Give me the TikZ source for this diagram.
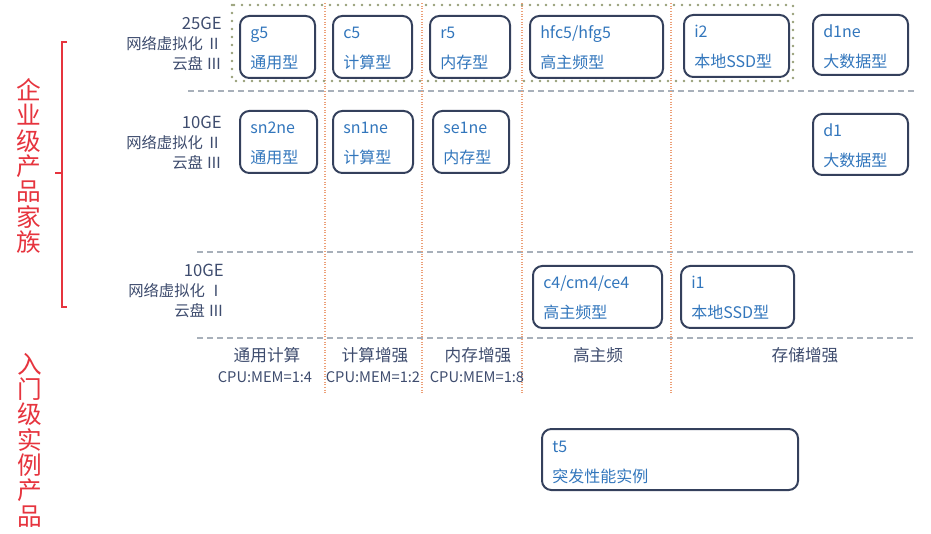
\documentclass[tikz,border=0pt]{standalone}
\usepackage{fontspec}
\setmainfont{Noto Sans CJK SC}
\usepackage{tikz}
\usepackage{xcolor}
\usetikzlibrary{positioning,calc}
\definecolor{famred}{RGB}{230,52,62}
\definecolor{boxline}{RGB}{52,64,92}
\definecolor{boxblue}{RGB}{50,118,188}
\definecolor{labgray}{RGB}{62,76,110}
\definecolor{gridgray}{RGB}{168,176,186}
\definecolor{sepor}{RGB}{236,160,120}
\definecolor{genolive}{RGB}{150,158,118}
\newcommand{\speedlab}[1]{{\fontsize{12.5}{15}\selectfont #1}}

\begin{document}
\begin{tikzpicture}[x=0.75pt,y=-0.75pt,
 machine/.style={draw=boxline,line width=1.5pt,rounded corners=7pt,anchor=north west,inner sep=0pt},
 tag/.style={anchor=base west,inner sep=0pt,text=boxblue,font=\fontsize{12}{14}\selectfont},
 rowlab/.style={anchor=east,align=right,inner sep=0pt,text=labgray,font=\fontsize{11.5}{15}\selectfont},
 collab/.style={inner sep=0pt,text=labgray,font=\fontsize{12.5}{14}\selectfont},
 ratiolab/.style={inner sep=0pt,text=labgray,font=\fontsize{11}{12}\selectfont},
 family/.style={inner sep=0pt,align=center,text=famred,font=\fontsize{18.5}{19}\selectfont},
 gridline/.style={draw=gridgray,line width=0.9pt,dash pattern=on 4.5pt off 3pt},
 colline/.style={draw=sepor,line width=0.8pt,dash pattern=on 0.8pt off 1.2pt},
 gendots/.style={draw=genolive,line width=2pt,line cap=round,dash pattern=on 0pt off 6pt}]
\useasboundingbox (0,0) rectangle (931,534);

% product families
\node[family] (enterprise) at (29,166) {企\\业\\级\\产\\品\\家\\族};
\node[family] (entry) at (30,440) {入\\门\\级\\实\\例\\产\\品};
\draw[famred,line width=0.8pt] (67,42) -- (62,42) -- (62,307) -- (67,307) (62,173) -- (55,173);

% grid
\foreach \y/\x in {91/188,252/197,338/197}
 \draw[gridline] (\x,\y) -- (915,\y);
\foreach \x in {325,422,522,671}
 \draw[colline] (\x,3) -- (\x,393);
\draw[gendots] (232,5) rectangle (793,81);

% network / disk rows
\node[rowlab] (ge25) at (222,44) {\speedlab{25GE}\\网络虚拟化 Ⅱ\\云盘 Ⅲ};
\node[rowlab] (ge10ne) at (222,143) {\speedlab{10GE}\\网络虚拟化 Ⅱ\\云盘 Ⅲ};
\node[rowlab] (ge10) at (224,291) {\speedlab{10GE}\\网络虚拟化 Ⅰ\\云盘 Ⅲ};

% instance families
\foreach \id/\x/\y/\w/\h/\model/\kind in {g5/239/15/75/62/g5/通用型,
 c5/332/15/79/62/c5/计算型,r5/429/15/80/62/r5/内存型,
 hfc5/529/15/133/62/{hfc5/hfg5}/高主频型,i2/683/14/105/62/i2/本地SSD型,
 d1ne/812/14/95/60/d1ne/大数据型,sn2ne/239/110/77/62/sn2ne/通用型,
 sn1ne/332/110/80/62/sn1ne/计算型,se1ne/432/110/76/62/se1ne/内存型,
 d1/812/113/95/61/d1/大数据型,c4/532/265/129/62/{c4/cm4/ce4}/高主频型,
 i1/680/265/113/62/i1/本地SSD型,t5/541/428/256/61/t5/突发性能实例}{
 \node[machine,minimum width=\w*0.75pt,minimum height=\h*0.75pt] (\id) at (\x,\y) {};
 \node[tag] (\id-model) at ([xshift=8.25pt,yshift=-18pt]\id.north west) {\model};
 \node[tag] (\id-kind) at ([xshift=8.25pt,yshift=-40.5pt]\id.north west) {\kind};
 }

% columns
\foreach \id/\x/\head in {general/267/通用计算,compute/375/计算增强,memory/478/内存增强,
 highfreq/598/高主频,storage/805/存储增强}
 \node[collab] (\id) at (\x,355) {\head};
\foreach \id/\x/\ratio in {general/265/{CPU:MEM=1:4},compute/373/{CPU:MEM=1:2},memory/477/{CPU:MEM=1:8}}
 \node[ratiolab] (\id-ratio) at (\x,377) {\ratio};

\end{tikzpicture}
\end{document}
